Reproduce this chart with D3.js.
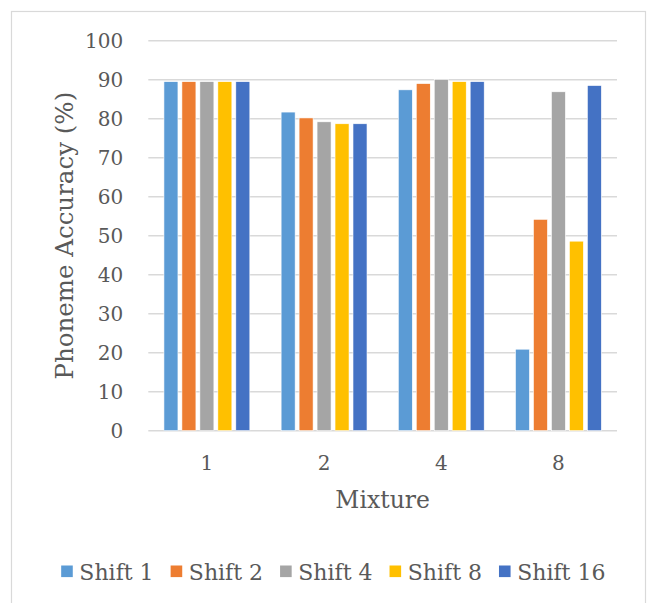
<!DOCTYPE html>
<html>
<head>
<meta charset="utf-8">
<script src="https://cdn.jsdelivr.net/npm/d3@7"></script>
<style>
  html, body { margin: 0; padding: 0; background: #fff; }
  svg { display: block; }
  text { font-family: "DejaVu Serif", "Liberation Serif", serif; fill: #595959; }
</style>
</head>
<body>
<svg id="chart" width="648" height="603"></svg>
<script>
// Mixture categories and phoneme accuracy (%) per shift setting
const categories = ["1", "2", "4", "8"];
const seriesNames = ["Shift 1", "Shift 2", "Shift 4", "Shift 8", "Shift 16"];
const shift1  = [89.5, 81.7, 87.4, 20.9];
const shift2  = [89.5, 80.2, 89.0, 54.2];
const shift4  = [89.5, 79.2, 90.1, 86.9];
const shift8  = [89.5, 78.7, 89.5, 48.6];
const shift16 = [89.5, 78.7, 89.5, 88.5];
const seriesValues = [shift1, shift2, shift4, shift8, shift16];
const colors = ["#5B9BD5", "#ED7D31", "#A5A5A5", "#FFC000", "#4472C4"];
const yTicks = [0, 10, 20, 30, 40, 50, 60, 70, 80, 90, 100];

const svg = d3.select("#chart");

// chart frame
svg.append("rect")
  .attr("x", 11.5).attr("y", 11.5)
  .attr("width", 634).attr("height", 600)
  .attr("fill", "#fff").attr("stroke", "#D9D9D9").attr("stroke-width", 1.2);

const plot = { left: 148.3, right: 617, top: 40.7, bottom: 430.7 };

const y = d3.scaleLinear().domain([0, 100]).range([plot.bottom, plot.top]);
const x0 = d3.scaleBand().domain(categories).range([plot.left, plot.right]);
const x1 = d3.scaleBand().domain(seriesNames)
  .range([0, x0.bandwidth()])
  .paddingInner(0.22).paddingOuter(0.87);

// horizontal gridlines
svg.append("g")
  .selectAll("line")
  .data(yTicks)
  .join("line")
  .attr("x1", plot.left).attr("x2", plot.right)
  .attr("y1", d => y(d)).attr("y2", d => y(d))
  .attr("stroke", "#D9D9D9").attr("stroke-width", 1.4);

// value axis labels
const yAxis = svg.append("g")
  .attr("transform", `translate(${plot.left - 25},0)`)
  .call(d3.axisLeft(y).tickValues(yTicks).tickSize(0).tickPadding(0));
yAxis.select(".domain").remove();
yAxis.selectAll("text")
  .attr("font-size", 20).attr("fill", "#595959")
  .attr("font-family", "DejaVu Serif")
  .attr("dy", "0.36em");

// bars
const rows = categories.map((c, i) => ({
  cat: c,
  vals: seriesNames.map((s, j) => ({ s, j, v: seriesValues[j][i] }))
}));

const groups = svg.append("g")
  .selectAll("g")
  .data(rows)
  .join("g")
  .attr("transform", d => `translate(${x0(d.cat)},0)`);

groups.selectAll("rect")
  .data(d => d.vals)
  .join("rect")
  .attr("x", d => x1(d.s))
  .attr("width", x1.bandwidth())
  .attr("y", d => y(d.v))
  .attr("height", d => y(0) - y(d.v))
  .attr("fill", d => colors[d.j])
  .attr("stroke", "#fff").attr("stroke-width", 0.6);

// category axis labels
const xAxis = svg.append("g")
  .attr("transform", `translate(0,${plot.bottom})`)
  .call(d3.axisBottom(x0).tickSize(0).tickPadding(0));
xAxis.select(".domain").remove();
xAxis.selectAll("text")
  .attr("font-size", 20).attr("fill", "#595959")
  .attr("font-family", "DejaVu Serif")
  .attr("dy", 39);

// axis titles
svg.append("text")
  .attr("x", (plot.left + plot.right) / 2).attr("y", 508.3)
  .attr("text-anchor", "middle").attr("font-size", 23.5)
  .text("Mixture");

svg.append("text")
  .attr("transform", `translate(73.3,${(plot.top + plot.bottom) / 2}) rotate(-90)`)
  .attr("text-anchor", "middle").attr("font-size", 24.5)
  .text("Phoneme Accuracy (%)");

// legend
const legend = svg.append("g");
const items = legend.selectAll("g")
  .data(seriesNames)
  .join("g");
items.append("rect")
  .attr("width", 11.6).attr("height", 11.6)
  .attr("y", 565.5)
  .attr("fill", (d, i) => colors[i]);
items.append("text")
  .attr("x", 18.2).attr("y", 580)
  .attr("font-size", 22)
  .text(d => d);

let cursor = 0;
const offsets = [];
items.each(function () {
  const w = d3.select(this).select("text").node().getComputedTextLength();
  offsets.push(cursor);
  cursor += 18.2 + w + 17;
});
const total = cursor - 17;
const start = 333.3 - total / 2;
items.attr("transform", (d, i) => `translate(${start + offsets[i]},0)`);
</script>
</body>
</html>
